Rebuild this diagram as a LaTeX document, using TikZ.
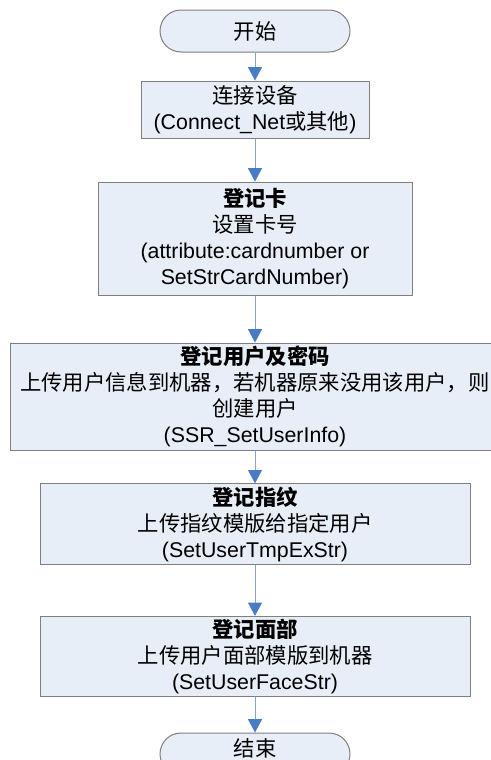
\documentclass[tikz,border=0pt]{standalone}
\usepackage{fontspec}
\setmainfont{Liberation Sans}
\newfontfamily\cjk{Noto Sans CJK SC}
\usepackage{xcolor}
\usepackage{tikz}
\usetikzlibrary{positioning,arrows.meta}
\definecolor{boxfill}{HTML}{E8EEF7}
\definecolor{boxline}{HTML}{7F7F7F}
\definecolor{flowline}{HTML}{8AA4D2}
\definecolor{flowtip}{HTML}{4A7CC6}

\begin{document}
\begin{tikzpicture}[
        every node/.style={
            rectangle,
            draw=boxline,
            line width=0.75pt,
            fill=boxfill,
            text=black,
            align=center,
            inner sep=2pt,
            font=\fontsize{16pt}{19.5pt}\selectfont
        },
        terminal/.style={
            rounded corners=15.75pt,
            minimum width=142.5pt,
            minimum height=31.5pt
        },
        arrow/.style={
            -{Triangle[width=10.5pt,length=10pt,color=flowtip]},
            line width=0.6pt,
            color=flowline
        }
    ]
        \useasboundingbox (0,0) rectangle (367.5pt,-570pt);
        \node[terminal] (start) at (191.25pt,-23.25pt) {{\cjk 开始}};
        \node (conn) [below of=start, node distance=58.9pt, minimum width=171pt, minimum height=42.75pt]
            {{\cjk 连接设备}\\(Connect\_Net{\cjk 或其他})};
        \node (card) [below of=conn, node distance=96.75pt, minimum width=235.5pt, minimum height=84.75pt]
            {{\cjk\bfseries 登记卡}\\{\cjk 设置卡号}\\(attribute:cardnumber or\\SetStrCardNumber)};
        \node (user) [below of=card, node distance=118.5pt, minimum width=367.5pt, minimum height=80.25pt]
            {{\cjk\bfseries 登记用户及密码}\\{\cjk 上传用户信息到机器，若机器原来没用该用户，则}\\{\cjk 创建用户}\\(SSR\_SetUserInfo)};
        \node (finger) [below of=user, node distance=95.6pt, minimum width=322.5pt, minimum height=58.5pt]
            {{\cjk\bfseries 登记指纹}\\{\cjk 上传指纹模版给指定用户}\\(SetUserTmpExStr)};
        \node (face) [below of=finger, node distance=99.4pt, minimum width=322.5pt, minimum height=59.25pt]
            {{\cjk\bfseries 登记面部}\\{\cjk 上传用户面部模版到机器}\\(SetUserFaceStr)};
        \node[terminal, text depth=9pt] (stop) [below of=face, node distance=73.1pt] {{\cjk 结束}};

        \draw[arrow] (start) -- (conn);
        \draw[arrow] (conn) -- (card);
        \draw[arrow] (card) -- (user);
        \draw[arrow] (user) -- (finger);
        \draw[arrow] (finger) -- (face);
        \draw[arrow] (face) -- (stop);
    \end{tikzpicture}
\end{document}
